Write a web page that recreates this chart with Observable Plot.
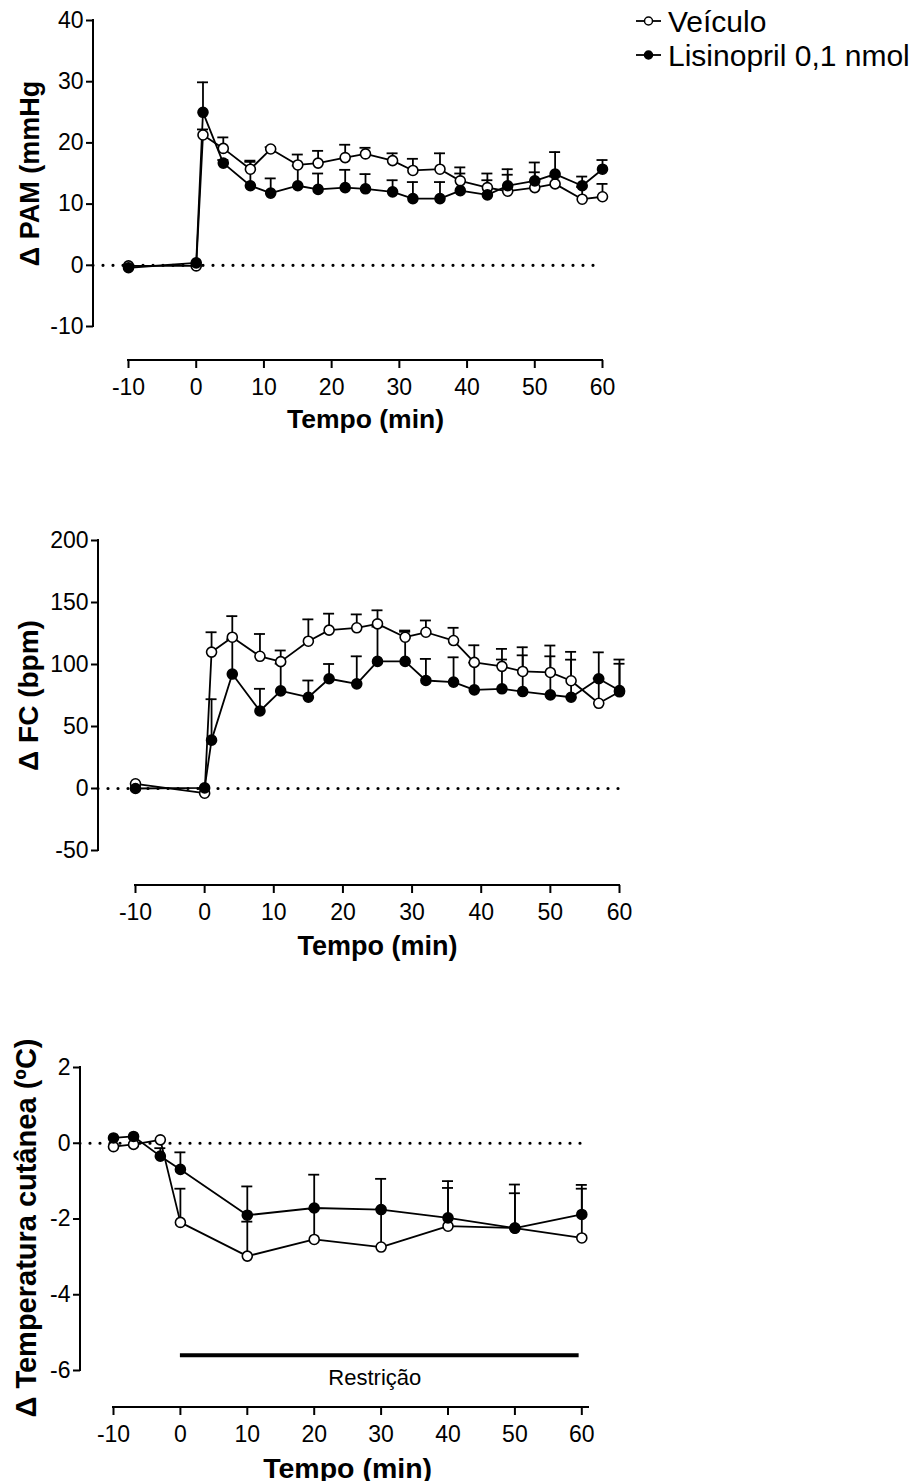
<!DOCTYPE html>
<html>
<head>
<meta charset="utf-8">
<script src="https://cdn.jsdelivr.net/npm/d3@7"></script>
<script src="https://cdn.jsdelivr.net/npm/@observablehq/plot@0.6"></script>
<style>
  html, body { margin: 0; padding: 0; background: #fff; }
  #wrap { position: relative; width: 920px; height: 1481px; font-family: "Liberation Sans", Arial, sans-serif; color: #000; }
  #wrap svg { position: absolute; left: 0; overflow: visible; }
</style>
</head>
<body>
<div id="wrap"></div>
<script>
// ---------- DATA ----------
const seriesNames = ["Veículo", "Lisinopril 0,1 nmol"];
const xTitle = "Tempo (min)";
const xTickValues = [-10, 0, 10, 20, 30, 40, 50, 60];

// Panel 1: Δ PAM (mmHg)
const pamTitle = "Δ PAM (mmHg";
const pamTimes = [-10, 0, 1, 4, 8, 11, 15, 18, 22, 25, 29, 32, 36, 39, 43, 46, 50, 53, 57, 60];
const pamVeh    = [-0.1, -0.1, 21.3, 19.1, 15.7, 19.0, 16.4, 16.7, 17.6, 18.2, 17.1, 15.5, 15.7, 13.8, 12.7, 12.1, 12.7, 13.3, 10.8, 11.2];
const pamVehErr = [0, 0, 0.9, 1.8, 1.4, 0.3, 1.7, 2.0, 2.1, 1.0, 1.2, 1.9, 2.6, 2.2, 2.3, 3.6, 2.5, 1.2, 2.0, 2.1];
const pamLis    = [-0.4, 0.4, 25.0, 16.7, 13.0, 11.8, 13.0, 12.4, 12.7, 12.5, 12.0, 10.9, 10.9, 12.2, 11.5, 13.0, 13.8, 14.9, 13.0, 15.7];
const pamLisErr = [0, 0, 4.9, 0.5, 3.9, 2.4, 3.3, 2.6, 2.9, 2.4, 1.9, 2.7, 2.7, 2.8, 2.4, 1.8, 3.0, 3.6, 1.5, 1.5];
const pamYTicks = [-10, 0, 10, 20, 30, 40];

// Panel 2: Δ FC (bpm)
const fcTitle = "Δ FC (bpm)";
const fcTimes = [-10, 0, 1, 4, 8, 11, 15, 18, 22, 25, 29, 32, 36, 39, 43, 46, 50, 53, 57, 60];
const fcVeh    = [3.8, -3.8, 110, 122, 106.6, 102.3, 118.8, 127.7, 129.6, 132.8, 122, 126, 119.3, 101.7, 98.5, 94.4, 93.6, 86.9, 68.7, 78];
const fcVehErr = [0, 0, 16, 17, 18, 9, 17.6, 13.3, 10.8, 10.9, 5.4, 9.5, 10.3, 13.8, 14.1, 19.5, 21.7, 23.3, 20, 26];
const fcLis    = [0, 0.5, 39, 92.3, 62.5, 78.7, 73.6, 88.5, 84.4, 102.5, 102.5, 87.1, 85.8, 79.5, 80.4, 78.2, 75.5, 73.6, 88.5, 79];
const fcLisErr = [0, 0, 33, 28, 17.9, 22, 13.5, 11.9, 22.2, 28, 23.9, 17.4, 20, 22, 23.6, 29.2, 31.1, 30.3, 21.3, 21.6];
const fcYTicks = [-50, 0, 50, 100, 150, 200];

// Panel 3: Δ Temperatura cutânea (ºC)
const tempTitle = "Δ Temperatura cutânea (ºC)";
const tempTimes = [-10, -7, -3, 0, 10, 20, 30, 40, 50, 60];
const tempVeh    = [-0.09, -0.03, 0.09, -2.09, -2.98, -2.54, -2.74, -2.19, -2.24, -2.50];
const tempVehErr = [0, 0, 0, 0.89, 0.91, 0.8, 1.0, 1.01, 1.15, 1.3];
const tempLis    = [0.14, 0.18, -0.34, -0.69, -1.90, -1.71, -1.75, -1.97, -2.24, -1.88];
const tempLisErr = [0, 0, 0.21, 0.45, 0.76, 0.88, 0.81, 0.97, 0.92, 0.78];
const tempYTicks = [-6, -4, -2, 0, 2];

// Restraint period annotation (panel 3)
const restraintLabel = "Restrição";
const restraintStart = 0;
const restraintEnd = 59.6;
const restraintLevel = -5.6;

// ---------- HELPERS ----------
const FONT = "'Liberation Sans', Arial, sans-serif";
const fmt = d => String(d);
const TICK_FONT = 23;

function rows(times, mean, err, series) {
  return times.map((t, i) => ({t, v: mean[i], e: err[i], top: mean[i] + err[i], series}));
}

// Offset (Prism-style) axis lines drawn through Plot's scales
function axisLines(xStart, yDom) {
  return (index, scales, values, dims) => {
    const g = d3.create("svg:g").attr("stroke", "#000").attr("stroke-width", 2).attr("fill", "none");
    const xb = dims.height - dims.marginBottom;
    g.append("line")
      .attr("x1", dims.marginLeft).attr("x2", dims.marginLeft)
      .attr("y1", scales.y(yDom[1]) - 1).attr("y2", scales.y(yDom[0]) + 1);
    g.append("line")
      .attr("x1", scales.x(xStart) - 1).attr("x2", dims.width - dims.marginRight + 1)
      .attr("y1", xb).attr("y2", xb);
    return g.node();
  };
}

function panel(cfg) {
  const veh = rows(cfg.times, cfg.veh, cfg.vehErr, seriesNames[0]);
  const lis = rows(cfg.times, cfg.lis, cfg.lisErr, seriesNames[1]);
  const bars = veh.concat(lis).filter(d => d.e > 0);
  const yDom = [d3.min(cfg.yTicks), d3.max(cfg.yTicks)];
  const extra = cfg.extra || [];
  const svg = Plot.plot({
    width: 920,
    height: cfg.height,
    marginLeft: cfg.marginLeft,
    marginRight: cfg.marginRight,
    marginTop: cfg.marginTop,
    marginBottom: cfg.marginBottom,
    style: {fontFamily: FONT, color: "#000", background: "transparent", overflow: "visible"},
    x: {domain: cfg.xDomain, insetLeft: cfg.insetLeft},
    y: {domain: yDom, insetBottom: cfg.insetBottom},
    marks: [
      Plot.ruleY([0], {stroke: "#000", strokeWidth: 3.2, strokeDasharray: "0 10", strokeLinecap: "round"}),
      ...extra,
      Plot.line(veh, {x: "t", y: "v", stroke: "#000", strokeWidth: 1.8}),
      Plot.line(lis, {x: "t", y: "v", stroke: "#000", strokeWidth: 1.8}),
      Plot.ruleX(bars, {x: "t", y1: "v", y2: "top", stroke: "#000", strokeWidth: 1.8}),
      Plot.ruleY(bars, {y: "top", x1: "t", x2: "t", insetLeft: -5.5, insetRight: -5.5, stroke: "#000", strokeWidth: 1.8}),
      Plot.dot(veh, {x: "t", y: "v", r: 5, fill: "#fff", stroke: "#000", strokeWidth: 1.6}),
      Plot.dot(lis, {x: "t", y: "v", r: 5, fill: "#000", stroke: "#000", strokeWidth: 1.6}),
      Plot.axisY({ticks: cfg.yTicks, tickFormat: fmt, tickSize: 7, tickPadding: 3, fontSize: TICK_FONT, strokeWidth: 2, label: null}),
      Plot.axisX({ticks: xTickValues, tickFormat: fmt, tickSize: 8, tickPadding: 10, fontSize: TICK_FONT, strokeWidth: 2, label: null}),
      axisLines(xTickValues[0], yDom),
      Plot.text([{label: cfg.yTitle, y: d3.mean(yDom)}], {
        y: "y", text: "label", frameAnchor: "left", dx: cfg.yTitleDx, dy: cfg.yTitleDy || 0, rotate: -90,
        textAnchor: "middle", lineAnchor: "middle", fontSize: cfg.yTitleSize, fontWeight: "bold", fill: "#000"
      }),
      Plot.text([{label: xTitle, x: d3.mean([xTickValues[0], xTickValues[xTickValues.length - 1]])}], {
        x: "x", text: "label", frameAnchor: "bottom", dy: cfg.xTitleDy,
        textAnchor: "middle", lineAnchor: "middle", fontSize: cfg.xTitleSize, fontWeight: "bold", fill: "#000"
      })
    ]
  });
  svg.style.top = cfg.top + "px";
  return svg;
}

const wrap = document.getElementById("wrap");

// Panel 1
wrap.appendChild(panel({
  top: 0, height: 440, marginLeft: 93, marginRight: 318, marginTop: 20, marginBottom: 80,
  insetLeft: 35, insetBottom: 34, xDomain: [-10, 60],
  times: pamTimes, veh: pamVeh, vehErr: pamVehErr, lis: pamLis, lisErr: pamLisErr,
  yTicks: pamYTicks, yTitle: pamTitle, yTitleDx: -63, yTitleSize: 27, xTitleDy: 59, xTitleSize: 26.5
}));

// Panel 2
wrap.appendChild(panel({
  top: 500, height: 460, marginLeft: 98, marginRight: 301, marginTop: 40, marginBottom: 75,
  insetLeft: 37, insetBottom: 35, xDomain: [-10, 60],
  times: fcTimes, veh: fcVeh, vehErr: fcVehErr, lis: fcLis, lisErr: fcLisErr,
  yTicks: fcYTicks, yTitle: fcTitle, yTitleDx: -69, yTitleSize: 28, xTitleDy: 61, xTitleSize: 27
}));

// Panel 3
const restraint = [{x1: restraintStart, x2: restraintEnd, y: restraintLevel, label: restraintLabel, xm: (restraintStart + restraintEnd) / 2}];
wrap.appendChild(panel({
  top: 1020, height: 461, marginLeft: 80, marginRight: 332, marginTop: 47, marginBottom: 74,
  insetLeft: 33, insetBottom: 37, xDomain: [-10, 61],
  times: tempTimes, veh: tempVeh, vehErr: tempVehErr, lis: tempLis, lisErr: tempLisErr,
  yTicks: tempYTicks, yTitle: tempTitle, yTitleDx: -54, yTitleDy: 9, yTitleSize: 29, xTitleDy: 61, xTitleSize: 28.5,
  extra: [
    Plot.ruleY(restraint, {y: "y", x1: "x1", x2: "x2", stroke: "#000", strokeWidth: 4}),
    Plot.text(restraint, {x: "xm", y: "y", text: "label", dx: -5, dy: 23, lineAnchor: "middle", fontSize: 22, fill: "#000"})
  ]
}));

// Legend (above-right, outside the plots)
const leg = d3.select(wrap).append("svg")
  .attr("width", 300).attr("height", 80)
  .style("left", "620px").style("top", "0px")
  .attr("font-family", FONT);
const legRows = seriesNames.map((name, i) => ({name, i}));
const lg = leg.selectAll("g").data(legRows).join("g")
  .attr("transform", d => `translate(0, ${21 + d.i * 34})`);
lg.append("line").attr("x1", 16).attr("x2", 41).attr("y1", 0).attr("y2", 0)
  .attr("stroke", "#000").attr("stroke-width", 1.8);
lg.append("circle").attr("cx", 28.5).attr("cy", 0).attr("r", 4)
  .attr("fill", d => d.i === 0 ? "#fff" : "#000").attr("stroke", "#000").attr("stroke-width", 1.5);
lg.append("text").attr("x", 48).attr("y", 0).attr("dy", "0.35em")
  .attr("font-size", 30).attr("fill", "#000").text(d => d.name);
</script>
</body>
</html>
